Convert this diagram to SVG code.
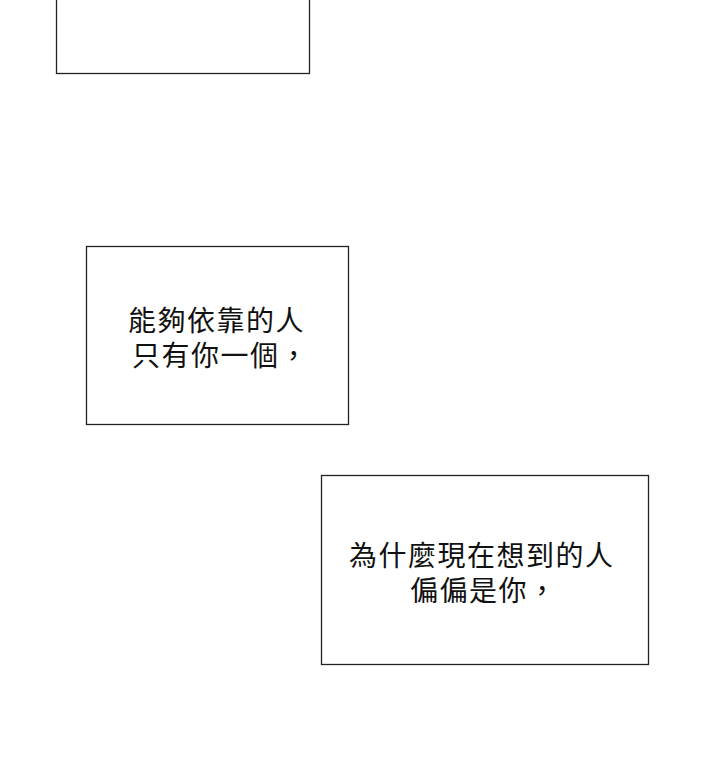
<svg xmlns="http://www.w3.org/2000/svg" width="720" height="771" viewBox="0 0 720 771">
<style>
.b{fill:#fff;stroke:#222;stroke-width:1.3}
.t{font-family:"Noto Sans CJK TC","Noto Sans CJK SC",sans-serif;font-size:28px;fill:#111;letter-spacing:1.5px}
</style>
<rect width="720" height="771" fill="#fff"/>
<g id="box1"><rect class="b" x="56.5" y="-5" width="253" height="78.5"/></g>
<g id="box2"><rect class="b" x="86.5" y="246.5" width="262" height="178"/>
<text class="t" x="128" y="331">能夠依靠的人</text>
<text class="t" x="132" y="366">只有你一個，</text></g>
<g id="box3"><rect class="b" x="321.5" y="475.5" width="327" height="189"/>
<text class="t" x="349" y="566">為什麼現在想到的人</text>
<text class="t" x="410" y="601">偏偏是你，</text></g>
<g id="connectors"/>
</svg>
